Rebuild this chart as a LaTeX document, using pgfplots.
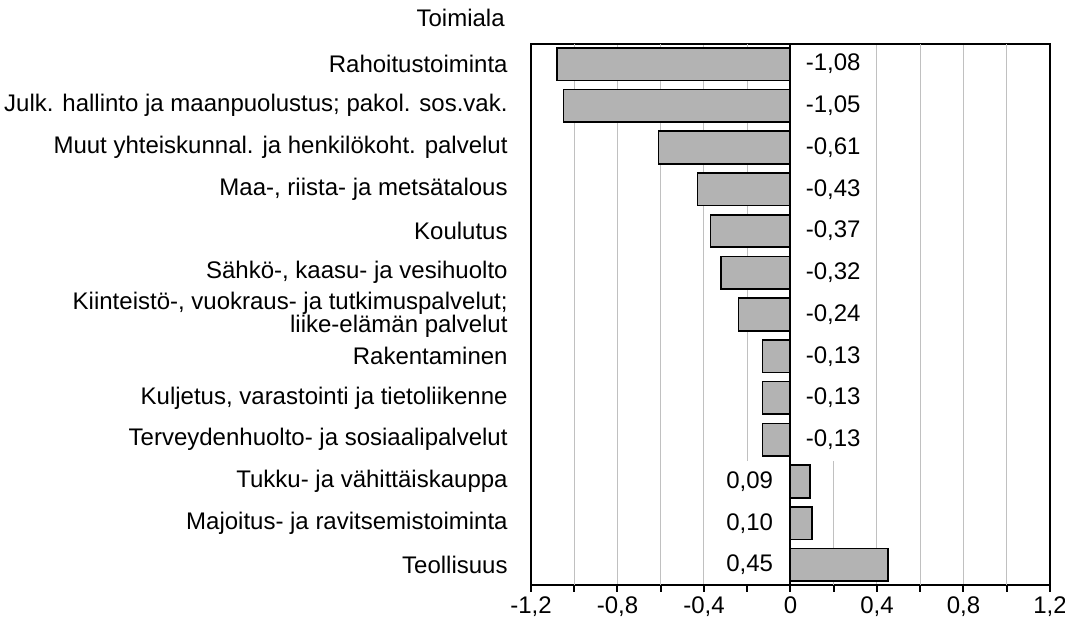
\documentclass[border=0pt]{standalone}
\usepackage{fontspec}
\setmainfont{Liberation Sans}
\usepackage{pgfplots}
\pgfplotsset{compat=1.18}
\usepackage{pgfplotstable}
\definecolor{barfill}{RGB}{179,179,179}
\definecolor{gridc}{RGB}{192,192,192}

\pgfplotstableread{
y v
0 0.45
1 0.10
2 0.09
3 -0.13
4 -0.13
5 -0.13
6 -0.24
7 -0.32
8 -0.37
9 -0.43
10 -0.61
11 -1.05
12 -1.08
}\bars

\pgfplotstableread{
x y lab
0 3 -0,13
0 4 -0,13
0 5 -0,13
0 6 -0,24
0 7 -0,32
0 8 -0,37
0 9 -0,43
0 10 -0,61
0 11 -1,05
0 12 -1,08
}\neglabs

\pgfplotstableread{
x y lab
0 0 0,45
0 1 0,10
0 2 0,09
}\poslabs

\begin{document}
\begin{tikzpicture}[font=\fontsize{12}{14}\selectfont]
\begin{axis}[
  scale only axis,
  width=259.5pt, height=270.5pt,
  xmin=-1.2, xmax=1.2, ymin=-0.48, ymax=12.48,
  axis line style={line width=1pt, black},
  xtick={-1.2,-0.8,-0.4,0,0.4,0.8,1.2},
  xticklabels={{-1,2},{-0,8},{-0,4},0,{0,4},{0,8},{1,2}},
  minor xtick={-1,-0.6,-0.2,0.2,0.6,1},
  extra x ticks={-1,-0.6,0.6,1},
  extra x tick labels={},
  extra x tick style={grid=major, major tick length=0pt},
  xtick pos=bottom,
  tick align=outside,
  major tick length=3.5pt, minor tick length=3.5pt,
  x tick style={line width=1pt, black},
  minor x tick style={line width=1pt, black},
  xmajorgrids,
  major grid style={gridc, line width=0.5pt},
  ytick={0,...,12},
  y tick style={draw=none},
  yticklabels={Teollisuus,
    Majoitus- ja ravitsemistoiminta,
    Tukku- ja vähittäiskauppa,
    Terveydenhuolto- ja sosiaalipalvelut,
    {Kuljetus, varastointi ja tietoliikenne},
    Rakentaminen,
    {Kiinteistö-, vuokraus- ja tutkimuspalvelut;\\liike-elämän palvelut},
    {Sähkö-, kaasu- ja vesihuolto},
    Koulutus,
    {Maa-, riista- ja metsätalous},
    Muut yhteiskunnal. ja henkilökoht. palvelut,
    {Julk. hallinto ja maanpuolustus; pakol. sos.vak.},
    Rahoitustoiminta},
  yticklabel style={align=right, inner sep=0pt, xshift=-8pt, font=\fontsize{12}{11.5}\selectfont},
  xticklabel style={yshift=1pt},
]
% partial grid lines (hidden behind the value labels in the original)
\addplot[gridc, line width=0.5pt] coordinates {(0.2,-0.48) (0.2,2.5)};
\addplot[gridc, line width=0.5pt] coordinates {(-0.2,2.5) (-0.2,12.48)};
\addplot[xbar, bar width=0.78, fill=barfill, draw=black, line width=0.8pt]
  table[x=v, y=y] {\bars};
\addplot[draw=none, mark=none, nodes near coords, point meta=explicit symbolic,
  nodes near coords style={anchor=west, xshift=7.5pt, inner sep=0pt, text=black}]
  table[x=x, y=y, meta=lab] {\neglabs};
\addplot[draw=none, mark=none, nodes near coords, point meta=explicit symbolic,
  nodes near coords style={anchor=east, xshift=-8.5pt, inner sep=0pt, text=black}]
  table[x=x, y=y, meta=lab] {\poslabs};
\addplot[black, line width=1pt] coordinates {(0,-0.48) (0,12.48)};
\end{axis}
\node[anchor=east, inner sep=0pt] at (-13pt,283.5pt) {Toimiala};
\pgfresetboundingbox
\path (-265.5pt,-19.5pt) rectangle (267pt,292.5pt);
\end{tikzpicture}
\end{document}
